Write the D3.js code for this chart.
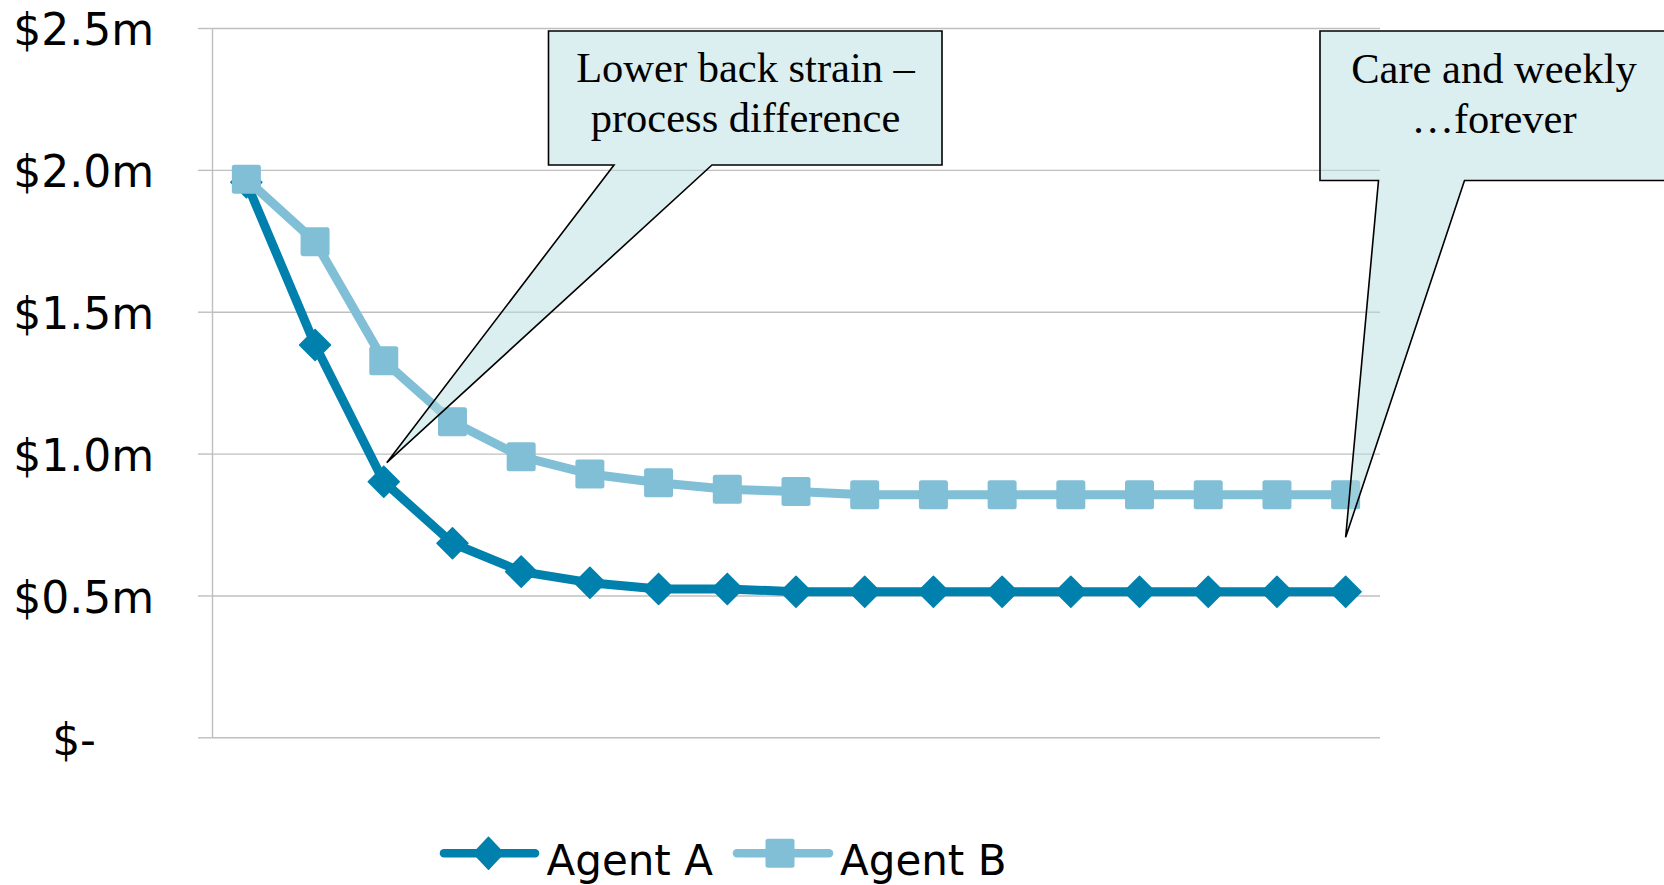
<!DOCTYPE html>
<html>
<head>
<meta charset="utf-8">
<script src="https://cdn.jsdelivr.net/npm/d3@7"></script>
<style>
  html, body { margin: 0; padding: 0; background: #ffffff; }
  svg { display: block; }
</style>
</head>
<body>
<svg id="chart" width="1664" height="885"></svg>
<script>
// Claim cost development, $ millions, by development period
const periods = d3.range(1, 18);
const agentA = [1.956, 1.383, 0.901, 0.684, 0.584, 0.545, 0.523, 0.523, 0.513, 0.513, 0.513, 0.513, 0.513, 0.513, 0.513, 0.513, 0.513];
const agentB = [1.967, 1.747, 1.327, 1.112, 0.989, 0.928, 0.897, 0.874, 0.866, 0.855, 0.855, 0.855, 0.855, 0.855, 0.855, 0.855, 0.855];
const seriesNames = ["Agent A", "Agent B"];
const yTicks = [0, 0.5, 1.0, 1.5, 2.0, 2.5];
const yTickLabels = ["$-", "$0.5m", "$1.0m", "$1.5m", "$2.0m", "$2.5m"];
const calloutTexts = [
  ["Lower back strain \u2013", "process difference"],
  ["Care and weekly", "\u2026forever"]
];

const colorA = "#0081AD";
const colorB = "#80BFD6";
const gridColor = "#BFBFBF";

const svg = d3.select("#chart");

const plot = { left: 212, right: 1380, top: 28, bottom: 737.3 };

const x = d3.scalePoint().domain(periods).range([plot.left, plot.right]).padding(0.5);
const y = d3.scaleLinear().domain([0, 2.5]).range([plot.bottom, plot.top]);

// gridlines
svg.append("g")
  .attr("transform", `translate(${plot.left},0)`)
  .call(d3.axisLeft(y).tickValues(yTicks).tickSize(-(plot.right - plot.left)).tickFormat(""))
  .call(g => g.select(".domain").remove())
  .call(g => g.selectAll("line").attr("stroke", gridColor).attr("stroke-width", 1.4));

// value axis with labels
const yAxis = svg.append("g")
  .attr("transform", `translate(${plot.left},0)`)
  .call(d3.axisLeft(y).tickValues(yTicks).tickSizeInner(14).tickSizeOuter(0).tickPadding(44)
    .tickFormat((d, i) => yTickLabels[i]));
yAxis.select(".domain").attr("stroke", gridColor).attr("stroke-width", 1.4);
yAxis.selectAll(".tick line").attr("stroke", gridColor).attr("stroke-width", 1.4);
yAxis.selectAll(".tick text")
  .attr("fill", "#000")
  .attr("font-family", "'DejaVu Sans', sans-serif")
  .attr("font-size", 44)
  .attr("dy", "0.38em")
  .filter(d => d === 0).attr("x", -116);

const line = d3.line().x((d, i) => x(periods[i])).y(d => y(d));

const diamond = s => `M0,${-s}L${s},0L0,${s}L${-s},0Z`;

// Agent A
svg.append("path").datum(agentA)
  .attr("d", line).attr("fill", "none").attr("stroke", colorA)
  .attr("stroke-width", 9).attr("stroke-linejoin", "round");
svg.append("g").selectAll("path").data(agentA).join("path")
  .attr("transform", (d, i) => `translate(${x(periods[i])},${y(d)})`)
  .attr("d", diamond(15.5)).attr("fill", colorA)
  .attr("stroke", colorA).attr("stroke-width", 1.5).attr("stroke-linejoin", "round");

// Agent B
svg.append("path").datum(agentB)
  .attr("d", line).attr("fill", "none").attr("stroke", colorB)
  .attr("stroke-width", 9).attr("stroke-linejoin", "round");
svg.append("g").selectAll("rect").data(agentB).join("rect")
  .attr("x", (d, i) => x(periods[i]) - 14.5).attr("y", d => y(d) - 14.5)
  .attr("width", 29).attr("height", 29).attr("rx", 2.5)
  .attr("fill", colorB);

// callouts
const callouts = [
  { box: [548.5, 31, 942, 165], base: [614, 712], tip: [x(3) + 3, y(0.968)], cx: 745.5, lines: calloutTexts[0], baselines: [82, 132] },
  { box: [1320, 31, 1668, 180.5], base: [1378.5, 1464.5], tip: [x(17), y(0.705)], cx: 1494, lines: calloutTexts[1], baselines: [83, 133] }
];
callouts.forEach(c => {
  const [x0, y0, x1, y1] = c.box;
  const p = d3.path();
  p.moveTo(x0, y0); p.lineTo(x1, y0); p.lineTo(x1, y1);
  p.lineTo(c.base[1], y1); p.lineTo(c.tip[0], c.tip[1]); p.lineTo(c.base[0], y1);
  p.lineTo(x0, y1); p.closePath();
  svg.append("path").attr("d", p.toString())
    .attr("fill", "#B7DDE1").attr("fill-opacity", 0.5)
    .attr("stroke", "#000").attr("stroke-width", 1.6).attr("stroke-linejoin", "miter");
  c.lines.forEach((t, i) => {
    svg.append("text").attr("x", c.cx).attr("y", c.baselines[i])
      .attr("text-anchor", "middle")
      .attr("font-family", "'Liberation Serif', 'Times New Roman', serif")
      .attr("font-size", 42.5).attr("fill", "#000").text(t);
  });
});

// legend
const legend = svg.append("g");
const legendItems = [
  { name: seriesNames[0], color: colorA, x0: 444, x1: 535, mx: 488.5, tx: 546.5, shape: "diamond" },
  { name: seriesNames[1], color: colorB, x0: 737, x1: 829, mx: 780, tx: 840, shape: "square" }
];
const ly = 853.3;
legendItems.forEach(it => {
  legend.append("line").attr("x1", it.x0).attr("x2", it.x1).attr("y1", ly).attr("y2", ly)
    .attr("stroke", it.color).attr("stroke-width", 8.5).attr("stroke-linecap", "round");
  if (it.shape === "diamond") {
    legend.append("path").attr("transform", `translate(${it.mx},${ly})`)
      .attr("d", `M0,-16L15,0L0,16L-15,0Z`).attr("fill", it.color)
      .attr("stroke", it.color).attr("stroke-width", 1.5).attr("stroke-linejoin", "round");
  } else {
    legend.append("rect").attr("x", it.mx - 14.5).attr("y", ly - 14.5)
      .attr("width", 29).attr("height", 29).attr("rx", 2.5).attr("fill", it.color);
  }
  legend.append("text").attr("x", it.tx).attr("y", 875)
    .attr("font-family", "'DejaVu Sans', sans-serif").attr("font-size", 42)
    .attr("fill", "#000").text(it.name);
});
</script>
</body>
</html>
